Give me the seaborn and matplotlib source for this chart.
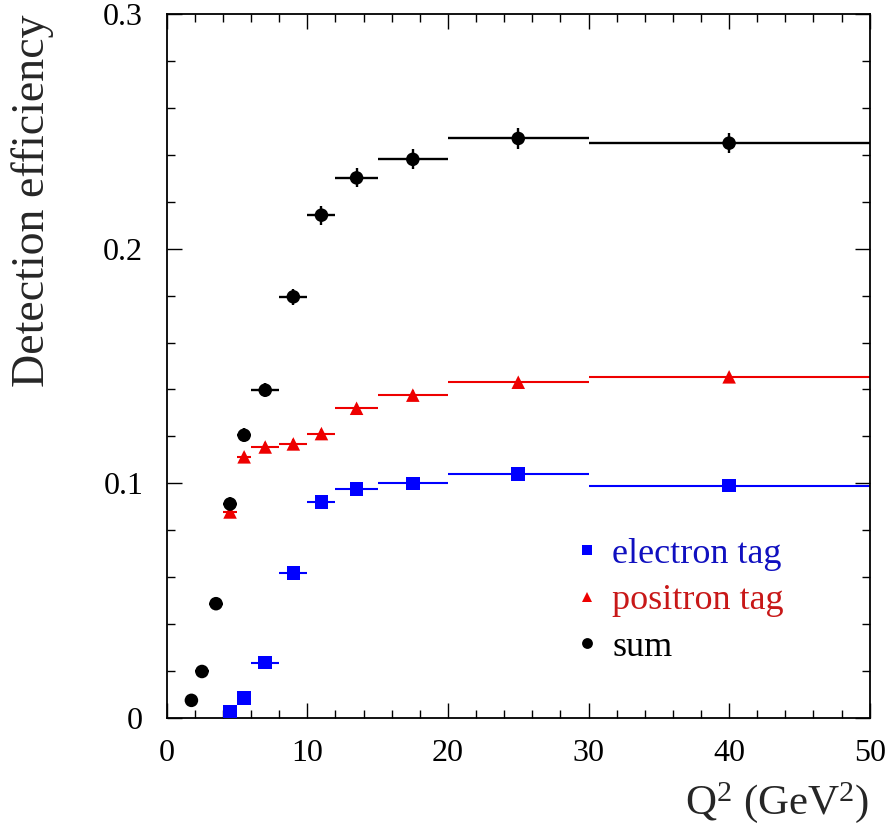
import numpy as np
import pandas as pd
import matplotlib
matplotlib.use("Agg")
import matplotlib.pyplot as plt
import seaborn as sns
from matplotlib.ticker import MultipleLocator, FuncFormatter

# ---- data ----
sum_x = [1.75, 2.5, 3.5, 4.5, 5.5, 7, 9, 11, 13.5, 17.5, 25, 40]
sum_xerr = [0.25, 0.5, 0.5, 0.5, 0.5, 1, 1, 1, 1.5, 2.5, 5, 10]
sum_y = [0.0075, 0.0198, 0.0487, 0.0912, 0.1205, 0.1397, 0.1795, 0.2143, 0.2302, 0.2381, 0.247, 0.245]
sum_yerr = [0.002, 0.002, 0.0025, 0.003, 0.003, 0.003, 0.0035, 0.004, 0.004, 0.0043, 0.0043, 0.0044]

pos_x = [4.5, 5.5, 7, 9, 11, 13.5, 17.5, 25, 40]
pos_xerr = [0.5, 0.5, 1, 1, 1, 1.5, 2.5, 5, 10]
pos_y = [0.0878, 0.1113, 0.1155, 0.1168, 0.1212, 0.132, 0.1376, 0.1431, 0.1454]
pos_yerr = [0.002, 0.002, 0.002, 0.002, 0.002, 0.002, 0.002, 0.002, 0.002]

ele_x = [4.5, 5.5, 7, 9, 11, 13.5, 17.5, 25, 40]
ele_xerr = [0.5, 0.5, 1, 1, 1, 1.5, 2.5, 5, 10]
ele_y = [0.0027, 0.0084, 0.0236, 0.0618, 0.0921, 0.0976, 0.1000, 0.104, 0.099]
ele_yerr = [0.0015, 0.0015, 0.0015, 0.0015, 0.0015, 0.0015, 0.0015, 0.0015, 0.0015]

labels = ["electron tag", "positron tag", "sum"]
colors = {"electron tag": "#0000ff", "positron tag": "#ee0000", "sum": "#000000"}
text_colors = {"electron tag": "#1010c0", "positron tag": "#c81818", "sum": "#000000"}
markers = {"electron tag": "s", "positron tag": "^", "sum": "o"}

x_ticks = [0, 10, 20, 30, 40, 50]
y_ticks = [0, 0.1, 0.2, 0.3]

df = pd.concat([
    pd.DataFrame({"x": ele_x, "y": ele_y, "series": "electron tag"}),
    pd.DataFrame({"x": pos_x, "y": pos_y, "series": "positron tag"}),
    pd.DataFrame({"x": sum_x, "y": sum_y, "series": "sum"}),
], ignore_index=True)

sns.set_style("ticks")
plt.rcParams["font.family"] = ["Liberation Serif", "DejaVu Serif"]
plt.rcParams["mathtext.fontset"] = "custom"
plt.rcParams["mathtext.rm"] = "Liberation Serif"
plt.rcParams["mathtext.it"] = "Liberation Serif:italic"

fig = plt.figure(figsize=(8.92, 8.30), dpi=100)
ax = fig.add_axes([0.187, 0.135, 0.788, 0.848])

# error bars
ax.errorbar(ele_x, ele_y, xerr=ele_xerr, yerr=ele_yerr, fmt="none",
            ecolor=colors["electron tag"], elinewidth=1.5, capsize=0, zorder=2)
ax.errorbar(pos_x, pos_y, xerr=pos_xerr, yerr=pos_yerr, fmt="none",
            ecolor=colors["positron tag"], elinewidth=1.5, capsize=0, zorder=2)
ax.errorbar(sum_x, sum_y, xerr=sum_xerr, yerr=sum_yerr, fmt="none",
            ecolor=colors["sum"], elinewidth=1.7, capsize=0, zorder=2)

sns.scatterplot(data=df, x="x", y="y", hue="series", style="series",
                hue_order=labels, style_order=labels,
                palette=colors, markers=markers, s=95, linewidth=0,
                ax=ax, zorder=3)

ax.set_xlim(0, 50)
ax.set_ylim(0, 0.3)
ax.set_xticks(x_ticks)
ax.set_yticks(y_ticks)
ax.xaxis.set_minor_locator(MultipleLocator(2))
ax.yaxis.set_minor_locator(MultipleLocator(0.02))
ax.yaxis.set_major_formatter(FuncFormatter(lambda v, p: "%g" % round(v, 3)))
ax.tick_params(which="both", direction="in", top=True, right=True,
               colors="black", width=1.0)
ax.tick_params(which="major", length=11, labelsize=23)
ax.tick_params(axis="x", which="major", pad=15)
ax.tick_params(axis="y", which="major", pad=17)
ax.tick_params(which="minor", length=6)
for sp in ax.spines.values():
    sp.set_linewidth(1.3)
    sp.set_color("black")

ax.set_xlabel(r"Q$^{2}$ (GeV$^{2}$)", fontsize=31, loc="right")
ax.set_ylabel("Detection efficiency", fontsize=33, loc="top")
ax.xaxis.set_label_coords(1.0, -0.088)
ax.yaxis.set_label_coords(-0.16, 1.0)

handles, labs = ax.get_legend_handles_labels()
leg = ax.legend(handles, labs, frameon=False, loc="upper left",
                bbox_to_anchor=(0.5775, 0.256), fontsize=26, markerscale=0.8,
                handlelength=0.8, handletextpad=0.3, labelspacing=0.36,
                borderpad=0, borderaxespad=0)
for txt, lab in zip(leg.get_texts(), labs):
    txt.set_color(text_colors[lab])

fig.savefig("out.png", dpi=100)
